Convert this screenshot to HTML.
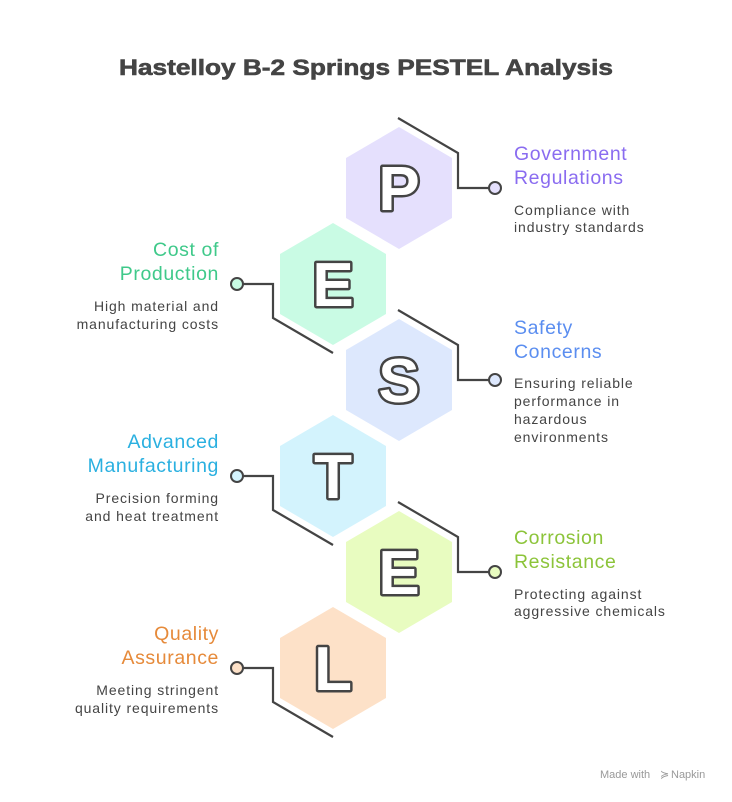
<!DOCTYPE html>
<html><head><meta charset="utf-8"><style>
html,body{margin:0;padding:0;background:#fff;}
svg{display:block;}
text{font-family:"Liberation Sans",sans-serif;}
.l{font-size:19.5px;letter-spacing:0.6px;}
.d{font-size:14px;fill:#444;letter-spacing:0.9px;}
.let{font-size:62px;font-weight:bold;fill:#fff;stroke:#444;stroke-width:5;paint-order:stroke;text-anchor:middle;stroke-linejoin:round;}
.c{fill:none;stroke:#444;stroke-width:2.2;}
</style></head><body>
<svg width="732" height="802" viewBox="0 0 732 802" xmlns="http://www.w3.org/2000/svg">
<text x="366" y="75" text-anchor="middle" font-size="22" font-weight="bold" fill="#444" stroke="#444" stroke-width="0.6" textLength="494" lengthAdjust="spacingAndGlyphs">Hastelloy B-2 Springs PESTEL Analysis</text>

<polygon points="399,127 452,158 452,218 399,249 346,218 346,158" fill="#e5e0fd"/>
<polygon points="333,223 386,254 386,314 333,345 280,314 280,254" fill="#c9fbe4"/>
<polygon points="399,319 452,350 452,410 399,441 346,410 346,350" fill="#dde8fd"/>
<polygon points="333,415 386,446 386,506 333,537 280,506 280,446" fill="#d3f3fd"/>
<polygon points="399,511 452,542 452,602 399,633 346,602 346,542" fill="#e8fcc0"/>
<polygon points="333,607 386,638 386,698 333,729 280,698 280,638" fill="#fde1c8"/>

<text class="let" x="399" y="210">P</text>
<text class="let" x="333" y="306">E</text>
<text class="let" x="399" y="402">S</text>
<text class="let" x="333" y="498">T</text>
<text class="let" x="399" y="594">E</text>
<text class="let" x="333" y="690">L</text>

<polyline class="c" points="398,118 458,153 458,188 489,188"/>
<circle cx="495" cy="188" r="6" fill="#e5e0fd" stroke="#444" stroke-width="2"/>
<polyline class="c" points="398,310 458,345 458,380 489,380"/>
<circle cx="495" cy="380" r="6" fill="#dde8fd" stroke="#444" stroke-width="2"/>
<polyline class="c" points="398,502 458,537 458,572 489,572"/>
<circle cx="495" cy="572" r="6" fill="#e8fcc0" stroke="#444" stroke-width="2"/>

<polyline class="c" points="243,284 273,284 273,318 333,353"/>
<circle cx="237" cy="284" r="6" fill="#c9fbe4" stroke="#444" stroke-width="2"/>
<polyline class="c" points="243,476 273,476 273,510 333,545"/>
<circle cx="237" cy="476" r="6" fill="#d3f3fd" stroke="#444" stroke-width="2"/>
<polyline class="c" points="243,668 273,668 273,702 333,737"/>
<circle cx="237" cy="668" r="6" fill="#fde1c8" stroke="#444" stroke-width="2"/>

<text class="l" x="514" y="160" fill="#8a6cf0">Government</text>
<text class="l" x="514" y="184" fill="#8a6cf0">Regulations</text>
<text class="d" x="514" y="215">Compliance with</text>
<text class="d" x="514" y="232">industry standards</text>

<text class="l" x="514" y="334" fill="#5b8ef0">Safety</text>
<text class="l" x="514" y="358" fill="#5b8ef0">Concerns</text>
<text class="d" x="514" y="388">Ensuring reliable</text>
<text class="d" x="514" y="406">performance in</text>
<text class="d" x="514" y="424">hazardous</text>
<text class="d" x="514" y="442">environments</text>

<text class="l" x="514" y="544" fill="#8cc43a">Corrosion</text>
<text class="l" x="514" y="568" fill="#8cc43a">Resistance</text>
<text class="d" x="514" y="599">Protecting against</text>
<text class="d" x="514" y="616">aggressive chemicals</text>

<g text-anchor="end">
<text class="l" x="219" y="256" fill="#3fc98a">Cost of</text>
<text class="l" x="219" y="280" fill="#3fc98a">Production</text>
<text class="d" x="219" y="311">High material and</text>
<text class="d" x="219" y="329">manufacturing costs</text>

<text class="l" x="219" y="448" fill="#2ab0e0">Advanced</text>
<text class="l" x="219" y="472" fill="#2ab0e0">Manufacturing</text>
<text class="d" x="219" y="503">Precision forming</text>
<text class="d" x="219" y="521">and heat treatment</text>

<text class="l" x="219" y="640" fill="#e68a3a">Quality</text>
<text class="l" x="219" y="664" fill="#e68a3a">Assurance</text>
<text class="d" x="219" y="695">Meeting stringent</text>
<text class="d" x="219" y="713">quality requirements</text>
</g>

<text x="600" y="778" font-size="11" fill="#999">Made with</text>
<text x="660" y="778" font-size="11" fill="#999">≽</text>
<text x="671" y="778" font-size="11" fill="#999">Napkin</text>
</svg>
</body></html>
